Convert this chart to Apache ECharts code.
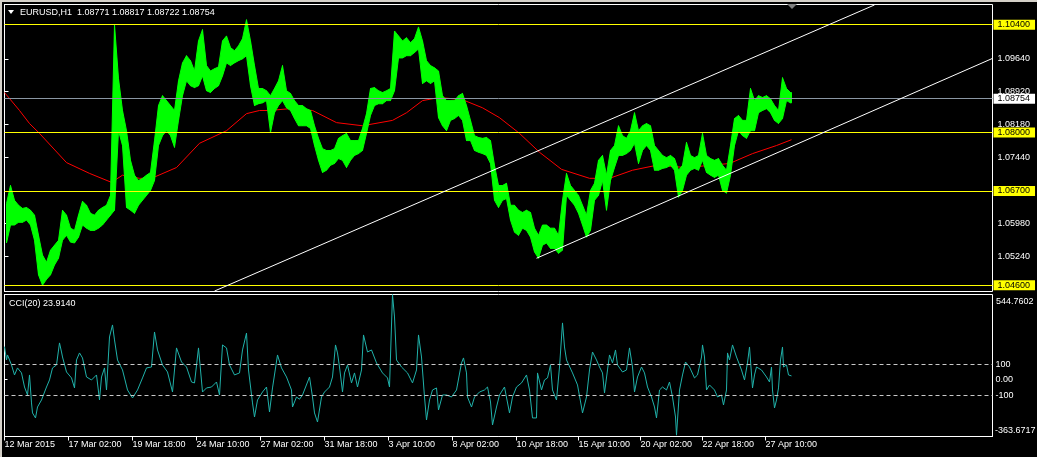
<!DOCTYPE html>
<html><head><meta charset="utf-8">
<script src="https://cdn.jsdelivr.net/npm/echarts@6/dist/echarts.min.js"></script>
<style>html,body{margin:0;padding:0;background:#000;overflow:hidden}#c{width:1037px;height:457px}</style>
</head><body><div id="c"></div>
<script>
// ---------- data ----------
const symbolName = 'EURUSD,H1';
const lastOHLC = [1.08771, 1.08817, 1.08722, 1.08754];
const priceMin = 1.0446, priceMax = 1.1085;
const priceTicks = [1.0964, 1.0892, 1.0818, 1.0744, 1.0598, 1.0524];
const levelLines = [1.1040, 1.0800, 1.0670, 1.0460];
const lastPrice = 1.08754;
const xMax = 988;
const timeTickBars = [0, 64, 128, 192, 256, 320, 384, 448, 512, 574, 636, 698, 761];
const timeTickLabels = ['12 Mar 2015', '17 Mar 02:00', '19 Mar 18:00', '24 Mar 10:00', '27 Mar 02:00', '31 Mar 18:00', '3 Apr 10:00', '8 Apr 02:00', '10 Apr 18:00', '15 Apr 10:00', '20 Apr 02:00', '22 Apr 18:00', '27 Apr 10:00'];
const barsPerChunk = 4;
const chunkHigh = [
1.0642,1.0682,1.0649,1.0638,1.0631,1.0633,1.0627,1.0616,1.0571,1.0527,
1.0511,1.0538,1.0549,1.0560,1.0627,1.0616,1.0587,1.0582,1.0616,1.0647,
1.0638,1.0620,1.0616,1.0627,1.0633,1.0638,1.0660,1.1040,1.0920,1.0849,
1.0804,1.0738,1.0705,1.0693,1.0698,1.0705,1.0711,1.0782,1.0860,1.0882,
1.0871,1.0860,1.0849,1.0915,1.0955,1.0971,1.0960,1.0937,1.1004,1.1029,
1.0949,1.0937,1.0942,1.0946,1.1004,1.1015,1.0989,1.0982,1.0993,1.1009,
1.1051,1.1004,1.0949,1.0898,1.0898,1.0893,1.0882,1.0898,1.0915,1.0949,
1.0893,1.0887,1.0871,1.0860,1.0860,1.0853,1.0849,1.0815,1.0787,1.0764,
1.0760,1.0760,1.0764,1.0787,1.0793,1.0798,1.0782,1.0782,1.0782,1.0809,
1.0842,1.0898,1.0900,1.0893,1.0889,1.0893,1.0898,1.1026,1.1015,1.1004,
1.1011,1.1000,1.1009,1.1035,1.1004,1.0960,1.0949,1.0944,1.0937,1.0882,
1.0871,1.0871,1.0871,1.0882,1.0887,1.0860,1.0827,1.0793,1.0789,1.0787,
1.0789,1.0782,1.0727,1.0682,1.0682,1.0687,1.0638,1.0638,1.0627,1.0622,
1.0627,1.0622,1.0587,1.0571,1.0594,1.0594,1.0587,1.0587,1.0571,1.0649,
1.0709,1.0682,1.0671,1.0660,1.0638,1.0616,1.0671,1.0687,1.0738,1.0749,
1.0705,1.0760,1.0771,1.0815,1.0793,1.0787,1.0804,1.0844,1.0804,1.0815,
1.0820,1.0815,1.0771,1.0760,1.0749,1.0744,1.0749,1.0742,1.0716,1.0727,
1.0778,1.0749,1.0744,1.0749,1.0798,1.0749,1.0742,1.0738,1.0742,1.0727,
1.0716,1.0771,1.0831,1.0838,1.0827,1.0827,1.0898,1.0871,1.0882,1.0878,
1.0882,1.0875,1.0860,1.0849,1.0922,1.0898,1.0889];
const chunkLow = [
1.0554,1.0594,1.0594,1.0600,1.0600,1.0605,1.0594,1.0560,1.0483,1.0460,
1.0473,1.0483,1.0505,1.0520,1.0560,1.0571,1.0556,1.0554,1.0567,1.0594,
1.0587,1.0582,1.0582,1.0587,1.0594,1.0605,1.0616,1.0627,1.0804,1.0771,
1.0633,1.0627,1.0620,1.0638,1.0649,1.0660,1.0671,1.0693,1.0771,1.0793,
1.0804,1.0793,1.0767,1.0827,1.0882,1.0915,1.0904,1.0900,1.0904,1.0926,
1.0893,1.0889,1.0898,1.0904,1.0926,1.0955,1.0949,1.0955,1.0960,1.0964,
1.0971,1.0904,1.0860,1.0864,1.0866,1.0871,1.0800,1.0844,1.0860,1.0871,
1.0855,1.0849,1.0831,1.0815,1.0815,1.0815,1.0809,1.0771,1.0738,1.0711,
1.0716,1.0727,1.0731,1.0742,1.0738,1.0722,1.0738,1.0749,1.0753,1.0760,
1.0798,1.0838,1.0860,1.0864,1.0864,1.0871,1.0871,1.0893,1.0966,1.0966,
1.0971,1.0971,1.0978,1.0986,1.0909,1.0915,1.0909,1.0915,1.0833,1.0815,
1.0804,1.0827,1.0831,1.0838,1.0827,1.0782,1.0782,1.0760,1.0756,1.0753,
1.0749,1.0731,1.0649,1.0633,1.0649,1.0653,1.0605,1.0578,1.0571,1.0587,
1.0582,1.0567,1.0534,1.0520,1.0549,1.0554,1.0542,1.0542,1.0531,1.0538,
1.0660,1.0649,1.0638,1.0620,1.0594,1.0567,1.0582,1.0649,1.0660,1.0693,
1.0627,1.0693,1.0722,1.0749,1.0749,1.0753,1.0760,1.0776,1.0731,1.0760,
1.0771,1.0760,1.0716,1.0716,1.0720,1.0722,1.0727,1.0716,1.0656,1.0671,
1.0705,1.0716,1.0720,1.0716,1.0738,1.0711,1.0705,1.0700,1.0705,1.0671,
1.0665,1.0705,1.0771,1.0804,1.0793,1.0787,1.0804,1.0804,1.0844,1.0849,
1.0853,1.0844,1.0827,1.0820,1.0831,1.0871,1.0866];
const maBars = [0,15,25,35,62,85,107,118,135,147,172,195,222,242,255,265,285,308,332,358,388,402,418,435,458,478,495,515,535,557,585,605,628,652,682,725,748,772,787];
const maValues = [1.0889,1.0849,1.0820,1.0798,1.0733,1.0709,1.0689,1.0705,1.0698,1.0698,1.0722,1.0776,1.0804,1.0842,1.0849,1.0849,1.0853,1.0849,1.0822,1.0815,1.0827,1.0844,1.0871,1.0878,1.0873,1.0855,1.0833,1.0798,1.0756,1.0718,1.0698,1.0698,1.0716,1.0727,1.0722,1.0731,1.0753,1.0771,1.0784];
const channelUpperBars = [210, 870], channelUpperPrices = [1.0447, 1.1084];
const channelLowerBars = [532, 988], channelLowerPrices = [1.0520, 1.0965];
const cciPeriod = 20, cciLast = 23.9140;
const cciMin = -363.6717, cciMax = 544.7602;
const cciLevels = [100, -100];
const cciAxisLabels = [100, 0, -100];
const cciBars = [0,2,3,7,10,13,17,20,23,25,27,28,31,33,37,42,45,48,52,55,57,58,62,67,70,72,75,78,82,87,92,95,97,100,102,105,108,110,113,118,123,128,133,138,142,147,150,153,158,163,168,172,177,182,187,190,194,198,202,207,212,215,218,222,225,230,235,238,242,244,248,250,253,258,262,265,268,273,277,282,287,288,292,295,298,305,308,310,313,317,320,325,328,331,333,335,338,340,343,347,350,353,357,359,363,367,372,378,383,385,388,390,392,397,403,408,412,414,417,420,422,425,428,432,434,438,442,447,452,457,459,462,463,467,470,475,480,483,486,488,492,495,500,505,508,512,517,522,525,528,532,533,537,540,543,546,548,552,555,558,560,562,568,573,577,578,582,585,588,592,595,598,600,603,605,608,611,613,618,622,625,628,630,633,637,640,643,647,650,652,655,658,662,665,668,671,672,675,678,681,685,690,693,697,698,700,702,705,710,713,717,719,722,723,725,728,732,737,740,743,745,748,750,752,757,762,765,767,768,770,772,774,776,778,779,782,784,787];
const cciValues = [211,126,158,94,30,75,43,-47,-98,30,-149,-213,-245,-175,-130,-47,-2,75,94,235,177,145,49,11,-53,126,171,139,17,-2,30,-130,17,75,-66,273,350,254,126,62,-66,-117,-66,11,75,81,305,190,94,49,-79,203,113,81,-15,-21,203,-79,-53,-47,-15,-98,222,203,94,30,43,190,298,62,-149,-239,-130,-79,-47,-207,-53,158,75,17,-66,-175,-111,-125,-98,17,-111,-213,-271,-111,-79,-47,17,222,171,81,-79,43,94,-21,43,-47,62,286,177,190,107,43,11,-47,544,401,126,81,43,-21,62,286,145,-111,-258,-130,-66,-53,-194,-98,-98,-111,-66,107,139,43,-111,-175,-111,-79,-66,-47,-143,-290,-175,-98,-47,-213,-111,-47,-21,30,-66,-245,-245,43,-66,-2,11,94,-66,-130,81,363,209,126,43,-34,-175,-213,-111,62,177,126,81,43,-85,62,158,107,190,94,49,62,203,81,-79,17,81,43,-47,-111,-175,-245,-66,-47,-66,-15,-111,-239,-355,-66,30,113,81,11,30,145,222,145,-66,-34,-66,-111,-98,-162,-66,171,126,222,145,62,-2,107,209,-53,30,81,62,17,-15,81,-66,-181,-130,-53,126,209,81,94,30,24];

// ---------- chart ----------
const FONT = 'Liberation Sans';
const chart = echarts.init(document.getElementById('c'), null, {renderer: 'canvas'});
const priceData = chunkHigh.map((h, k) => [k * barsPerChunk + barsPerChunk / 2, h, chunkLow[k]]);
const maData = maBars.map((b, i) => [b, maValues[i]]);
const cciData = cciBars.map((b, i) => [b, cciValues[i]]);
const upData = channelUpperBars.map((b, i) => [b, channelUpperPrices[i]]);
const loData = channelLowerBars.map((b, i) => [b, channelLowerPrices[i]]);

// each item fills the band between this chunk and the next one
function renderBand(params, api) {
  const k = params.dataIndex;
  const cur = priceData[k];
  const nxt = priceData[Math.min(k + 1, priceData.length - 1)];
  const a = api.coord([cur[0], cur[1]]), b = api.coord([nxt[0], nxt[1]]);
  const c = api.coord([nxt[0], nxt[2]]), d = api.coord([cur[0], cur[2]]);
  if (k === priceData.length - 1) { b[0] += 1; c[0] += 1; }
  return {type: 'polygon', shape: {points: [a, b, c, d]}, style: {fill: '#00ff00', stroke: '#00ff00', lineWidth: 1}};
}
const boxLabel = (bg) => ({show: true, position: 'end', distance: 1, formatter: p => Number(p.value).toFixed(5), backgroundColor: bg, color: '#000', fontFamily: FONT, fontSize: 9, lineHeight: 9, padding: [1, 5, 0, 4]});

const option = {
  backgroundColor: '#000',
  animation: false,
  textStyle: {fontFamily: FONT},
  grid: [
    {left: 4.5, top: 4.5, width: 988, height: 287, show: true, borderColor: '#fff', borderWidth: 1, backgroundColor: '#000'},
    {left: 4.5, top: 294.5, width: 988, height: 142, show: true, borderColor: '#fff', borderWidth: 1, backgroundColor: '#000'}
  ],
  xAxis: [
    {type: 'value', gridIndex: 0, min: 0, max: xMax, show: false},
    {type: 'value', gridIndex: 1, min: 0, max: xMax,
     axisLine: {show: true, onZero: false, lineStyle: {color: '#fff'}},
     axisTick: {show: true, length: 4, lineStyle: {color: '#fff'}, customValues: timeTickBars},
     axisLabel: {color: '#fff', fontFamily: FONT, fontSize: 9, align: 'left', margin: 4, customValues: timeTickBars,
                 formatter: v => timeTickLabels[timeTickBars.indexOf(v)] || ''},
     splitLine: {show: false}}
  ],
  yAxis: [
    {type: 'value', gridIndex: 0, position: 'right', min: priceMin, max: priceMax,
     axisLine: {show: true, lineStyle: {color: '#fff'}},
     axisTick: {show: true, length: 4, lineStyle: {color: '#fff'}, customValues: priceTicks},
     axisLabel: {color: '#fff', fontFamily: FONT, fontSize: 9, margin: 5, customValues: priceTicks, formatter: v => v.toFixed(5)},
     splitLine: {show: false}},
    {type: 'value', gridIndex: 1, position: 'right', min: cciMin, max: cciMax,
     axisLine: {show: true, lineStyle: {color: '#fff'}},
     axisTick: {show: true, length: 3, lineStyle: {color: '#fff'}, customValues: [0]},
     axisLabel: {color: '#fff', fontFamily: FONT, fontSize: 9, margin: 3, customValues: cciAxisLabels, formatter: v => v === 0 ? '0.00' : String(v)},
     splitLine: {show: false}}
  ],
  series: [
    {type: 'line', xAxisIndex: 0, yAxisIndex: 0, data: maData, showSymbol: false, smooth: false,
     lineStyle: {color: '#ff0000', width: 1}, z: 3},
    {type: 'custom', xAxisIndex: 0, yAxisIndex: 0, data: priceData, renderItem: renderBand, z: 4, clip: true,
     markLine: {silent: true, symbol: 'none', animation: false, precision: 5,
       data: levelLines.map(v => ({yAxis: v, lineStyle: {color: '#ffff00', width: 1, type: 'solid'}, label: boxLabel('#ffff00')}))
         .concat([{yAxis: lastPrice, lineStyle: {color: '#8a96a3', width: 1, type: 'solid'}, label: boxLabel('#ffffff')}])}},
    {type: 'line', xAxisIndex: 0, yAxisIndex: 0, data: upData, showSymbol: false, lineStyle: {color: '#ffffff', width: 1}, z: 5, clip: true},
    {type: 'line', xAxisIndex: 0, yAxisIndex: 0, data: loData, showSymbol: false, lineStyle: {color: '#ffffff', width: 1}, z: 5, clip: true},
    {type: 'line', xAxisIndex: 1, yAxisIndex: 1, data: cciData, showSymbol: false, lineStyle: {color: '#20b2aa', width: 1}, z: 4,
     markLine: {silent: true, symbol: 'none', animation: false, precision: 2, label: {show: false},
       data: cciLevels.map(v => ({yAxis: v})), lineStyle: {color: '#c8c8c8', width: 1, type: [4, 3]}}}
  ],
  graphic: [
    {type: 'rect', shape: {x: 0, y: 0, width: 1037, height: 2}, style: {fill: '#d4d0c8'}, silent: true},
    {type: 'rect', shape: {x: 0, y: 0, width: 2, height: 457}, style: {fill: '#d4d0c8'}, silent: true},
    {type: 'polygon', shape: {points: [[8, 10], [14, 10], [11, 14]]}, style: {fill: '#fff'}},
    {type: 'text', x: 20, y: 13, style: {text: symbolName + '  ' + lastOHLC.map(v => v.toFixed(5)).join(' '), fill: '#fff', font: '9px "' + FONT + '"', verticalAlign: 'middle'}},
    {type: 'text', x: 9, y: 304, style: {text: 'CCI(' + cciPeriod + ') ' + cciLast.toFixed(4), fill: '#fff', font: '9px "' + FONT + '"', verticalAlign: 'middle'}},
    {type: 'text', x: 996, y: 302, style: {text: cciMax.toFixed(4), fill: '#fff', font: '9px "' + FONT + '"', verticalAlign: 'middle'}},
    {type: 'text', x: 995, y: 431, style: {text: cciMin.toFixed(4), fill: '#fff', font: '9px "' + FONT + '"', verticalAlign: 'middle'}},
    {type: 'polygon', shape: {points: [[787, 4], [797, 4], [792, 9]]}, style: {fill: '#808080'}}
  ]
};
chart.setOption(option);
</script></body></html>
